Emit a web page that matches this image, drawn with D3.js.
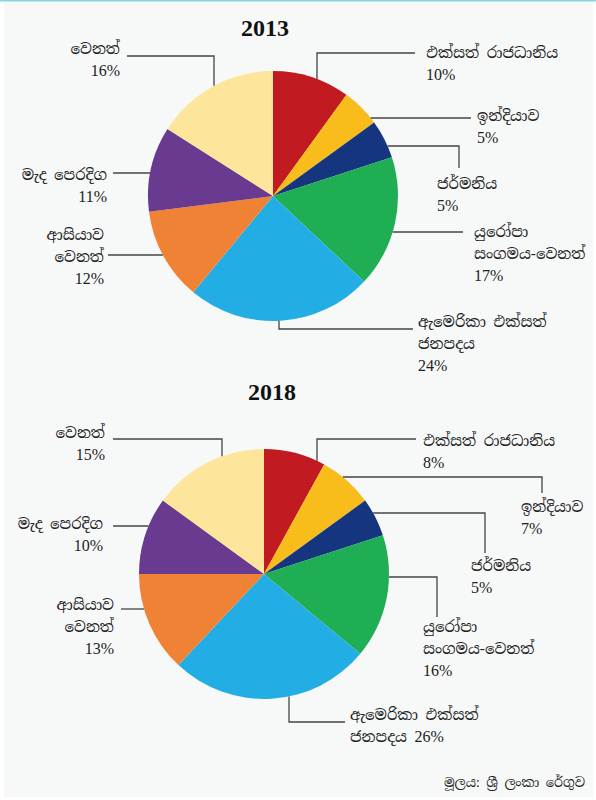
<!DOCTYPE html>
<html>
<head>
<meta charset="utf-8">
<script src="https://cdn.jsdelivr.net/npm/d3@7"></script>
<style>
  body { margin: 0; background: #fff; }
  svg { display: block; }
  .lbl { font-family: "Noto Serif Sinhala", "Noto Sans Sinhala", "Iskoola Pota", "Liberation Serif", serif; font-size: 15px; fill: #222; }
  .pct { font-family: "Liberation Serif", "Times New Roman", serif; font-size: 16px; }
  .title { font-family: "Liberation Serif", "Times New Roman", serif; font-size: 24px; font-weight: bold; fill: #111; }
  .leader { fill: none; stroke: #444; stroke-width: 1.3; }
</style>
</head>
<body>
<div id="chart"></div>
<script>
// Data
const categories = ['එක්සත් රාජධානිය', 'ඉන්දියාව', 'ජර්මනිය', 'යුරෝපා\nසංගමය-වෙනත්',
    'ඇමෙරිකා එක්සත්\nජනපදය', 'ආසියාව\nවෙනත්', 'මැද පෙරදිග', 'වෙනත්'];
const years = ['2013', '2018'];
const values2013 = [10, 5, 5, 17, 24, 12, 11, 16];
const values2018 = [8, 7, 5, 16, 26, 13, 10, 15];
const sourceText = 'මූලය: ශ්‍රී ලංකා රේගුව';

const colors = ['#c11a21', '#f8bd1a', '#15357e', '#1fae54', '#22aee5', '#ef8234', '#683b91', '#fde59b'];

// Layout
const width = 596, height = 800;
const radius = 125;
const lineH = 21.5;

// label layout per chart: text x, anchor, first line y, leader shape
const layout2013 = [
    { x: 426, anchor: 'start', y: 53, leader: { type: 'vh', x: 317, y: 53, x2: 415 } },
    { x: 477, anchor: 'start', y: 116, leader: { type: 'h', y: 118, x2: 471 } },
    { x: 437, anchor: 'start', y: 184, leader: { type: 'hv', y: 146, x: 459, y2: 168 } },
    { x: 474, anchor: 'start', y: 232, leader: { type: 'h', y: 232, x2: 463 } },
    { x: 418, anchor: 'start', y: 322, leader: { type: 'vh', x: 279, y: 329, x2: 413 } },
    { x: 104, anchor: 'end', y: 235, leader: { type: 'h', y: 255, x2: 108 } },
    { x: 107, anchor: 'end', y: 175, leader: { type: 'h', y: 173, x2: 113 } },
    { x: 120, anchor: 'end', y: 49, leader: { type: 'vh', x: 214, y: 56, x2: 127 } }
];
const layout2018 = [
    { x: 423, anchor: 'start', y: 441, leader: { type: 'vh', x: 317, y: 439, x2: 416 } },
    { x: 521, anchor: 'start', y: 507, leader: { type: 'hv', y: 477, x: 542, y2: 493 } },
    { x: 471, anchor: 'start', y: 566, leader: { type: 'hv', y: 513, x: 485, y2: 553 } },
    { x: 423, anchor: 'start', y: 627, leader: { type: 'hv', y: 577, x: 437, y2: 617 } },
    { x: 350, anchor: 'start', y: 715, inline: true, leader: { type: 'vh', x: 289, y: 722, x2: 345 } },
    { x: 114, anchor: 'end', y: 605, leader: { type: 'h', y: 609, x2: 121 } },
    { x: 103, anchor: 'end', y: 524, leader: { type: 'h', y: 526, x2: 113 } },
    { x: 105, anchor: 'end', y: 433, leader: { type: 'vh', x: 222, y: 439, x2: 113 } }
];

const charts = [
    { year: years[0], values: values2013, layout: layout2013, cx: 273, cy: 196, titleX: 265, titleY: 28 },
    { year: years[1], values: values2018, layout: layout2018, cx: 264, cy: 574, titleX: 272, titleY: 392 }
];

const svg = d3.select('#chart')
    .append('svg')
    .attr('width', width)
    .attr('height', height);

// background panel
svg.append('rect')
    .attr('x', 4).attr('y', 1)
    .attr('width', width - 7).attr('height', height - 4)
    .attr('fill', '#f7f9f9');
svg.append('line')
    .attr('x1', 0).attr('x2', width)
    .attr('y1', 0.75).attr('y2', 0.75)
    .attr('stroke', '#86d4e2').attr('stroke-width', 1.5);

const pie = d3.pie().sort(null).value(d => d);
const arc = d3.arc().innerRadius(0).outerRadius(radius);

function drawChart(c) {
    const g = svg.append('g');

    g.append('text')
        .attr('class', 'title')
        .attr('x', c.titleX)
        .attr('y', c.titleY)
        .attr('dy', '0.35em')
        .attr('text-anchor', 'middle')
        .text(c.year);

    const pg = g.append('g')
        .attr('transform', `translate(${c.cx},${c.cy})`);

    pg.selectAll('path')
        .data(pie(c.values))
        .enter()
        .append('path')
        .attr('d', arc)
        .attr('fill', (d, i) => colors[i]);

    // leader lines, ending at the pie edge
    c.layout.forEach((l, i) => {
        const s = l.leader;
        let pts;
        if (s.type === 'h') {
            const dx = Math.sqrt(radius * radius - (s.y - c.cy) ** 2);
            const x0 = s.x2 > c.cx ? c.cx + dx : c.cx - dx;
            pts = [[x0, s.y], [s.x2, s.y]];
        } else if (s.type === 'vh') {
            const dy = Math.sqrt(radius * radius - (s.x - c.cx) ** 2);
            const y0 = s.y < c.cy ? c.cy - dy : c.cy + dy;
            pts = [[s.x, y0], [s.x, s.y], [s.x2, s.y]];
        } else {
            const dx = Math.sqrt(radius * radius - (s.y - c.cy) ** 2);
            const x0 = s.x > c.cx ? c.cx + dx : c.cx - dx;
            pts = [[x0, s.y], [s.x, s.y], [s.x, s.y2]];
        }
        g.append('path')
            .attr('class', 'leader')
            .attr('d', d3.line()(pts));
    });

    // labels: name lines, then the percentage (own line, or after the last line)
    c.layout.forEach((l, i) => {
        const lines = categories[i].split('\n').map(s => [{ text: s }]);
        const pct = { text: c.values[i] + '%', pct: true };
        if (l.inline) lines[lines.length - 1].push({ text: ' ' }, pct);
        else lines.push([pct]);

        const t = g.append('text')
            .attr('class', 'lbl')
            .attr('text-anchor', l.anchor);
        lines.forEach((parts, k) => {
            parts.forEach((p, j) => {
                const ts = t.append('tspan')
                    .attr('class', p.pct ? 'pct' : null)
                    .text(p.text);
                if (j === 0) {
                    ts.attr('x', l.x)
                        .attr('y', l.y + k * lineH)
                        .attr('dy', '0.35em');
                }
            });
        });
    });
}

charts.forEach(drawChart);

svg.append('text')
    .attr('class', 'lbl')
    .attr('x', 585)
    .attr('y', 782)
    .attr('dy', '0.35em')
    .attr('text-anchor', 'end')
    .style('font-size', '13px')
    .text(sourceText);
</script>
</body>
</html>
